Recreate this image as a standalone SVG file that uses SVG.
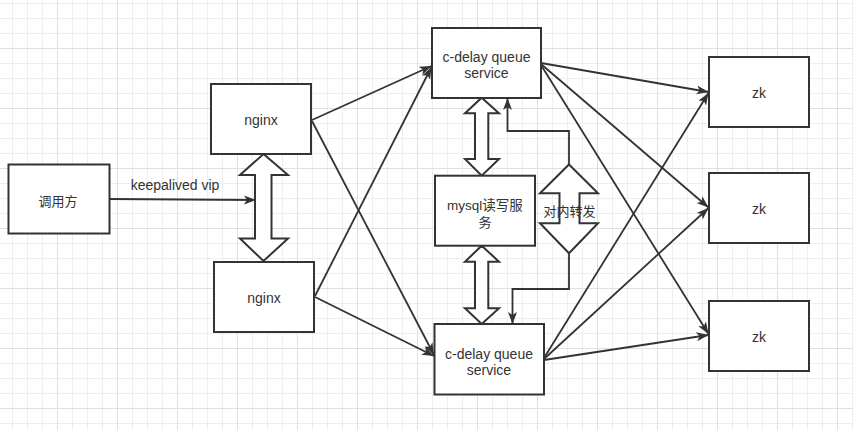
<svg xmlns="http://www.w3.org/2000/svg" width="853" height="430" viewBox="0 0 853 430">
<defs>
<pattern id="grid" x="57" y="48" width="60" height="60" patternUnits="userSpaceOnUse">
<path d="M15.5,0V60M30.5,0V60M45.5,0V60M0,15.5H60M0,30.5H60M0,45.5H60" stroke="#eeeeee" stroke-width="1" fill="none"/>
<path d="M0.5,0V60M0,0.5H60" stroke="#e0e0e0" stroke-width="1" fill="none"/>
</pattern>
<marker id="arr" markerUnits="userSpaceOnUse" markerWidth="14" markerHeight="10" refX="12" refY="4.5" orient="auto">
<path d="M0,0 L12,4.5 L0,9 L3,4.5 Z" fill="#333333"/>
</marker>
</defs>
<style>
.box{fill:#ffffff;stroke:#333333;stroke-width:2}
.dbl{fill:#ffffff;stroke:#333333;stroke-width:2;stroke-linejoin:miter}
.ln{fill:none;stroke:#333333;stroke-width:1.8;marker-end:url(#arr)}
.t{font-family:"Liberation Sans","Noto Sans CJK SC",sans-serif;font-size:14px;fill:#333333;text-anchor:middle;dominant-baseline:central}
.c{font-family:"Noto Sans CJK SC",sans-serif;font-size:13px;fill:#333333;text-anchor:middle;dominant-baseline:central}
</style>
<rect width="853" height="430" fill="#ffffff"/>
<rect width="853" height="430" fill="url(#grid)"/>

<g id="connectors">
<line class="ln" x1="109" y1="199" x2="256" y2="200"/>
<line class="ln" x1="312" y1="120" x2="431.5" y2="66"/>
<line class="ln" x1="312" y1="121" x2="434" y2="355"/>
<line class="ln" x1="315" y1="296" x2="431.5" y2="67"/>
<line class="ln" x1="315" y1="297" x2="434" y2="356"/>
<line class="ln" x1="541" y1="63" x2="708.5" y2="92"/>
<line class="ln" x1="541" y1="64" x2="708.5" y2="207.5"/>
<line class="ln" x1="541" y1="65" x2="708.5" y2="334"/>
<line class="ln" x1="544" y1="358" x2="708.5" y2="93"/>
<line class="ln" x1="544" y1="359" x2="708.5" y2="208"/>
<line class="ln" x1="544" y1="360" x2="708.5" y2="335"/>
<polyline class="ln" points="569,164.5 569,131 507.5,131 507.5,98"/>
<polyline class="ln" points="569,253.5 569,289 512.5,289 512.5,324"/>
<text class="t" x="175" y="185">keepalived vip</text>
</g>

<g id="dbl-nginx">
<polygon class="dbl" points="263.5,154 288,175 271.5,175 271.5,238.5 288,238.5 263.5,261 240,238.5 255,238.5 255,175 240,175"/>
</g>
<g id="dbl-top">
<polygon class="dbl" points="481.7,97.7 499,113.3 488.3,113.3 488.3,159 499,159 481.7,175.7 465,159 475,159 475,113.3 465,113.3"/>
</g>
<g id="dbl-bottom">
<polygon class="dbl" points="481.7,245.7 499,261.7 488.3,261.7 488.3,308.3 499,308.3 481.7,324 465,308.3 475,308.3 475,261.7 465,261.7"/>
</g>
<g id="forward">
<polygon class="dbl" points="569,164.5 598,193.3 579.5,193.3 579.5,223.3 598,223.3 569,253.3 540,223.3 559.5,223.3 559.5,193.3 540,193.3"/>
<text class="c" x="569.5" y="210">对内转发</text>
</g>

<g id="caller">
<rect class="box" x="8.5" y="164.5" width="101" height="69"/>
<text class="c" x="58" y="200">调用方</text>
</g>
<g id="nginx1">
<rect class="box" x="211" y="84" width="100" height="70"/>
<text class="t" x="261" y="120">nginx</text>
</g>
<g id="nginx2">
<rect class="box" x="214" y="262" width="100" height="70"/>
<text class="t" x="264" y="298">nginx</text>
</g>
<g id="cdelay1">
<rect class="box" x="432" y="28" width="109" height="70"/>
<text class="t" x="486.5" y="56.5">c-delay queue</text>
<text class="t" x="486.5" y="72.5">service</text>
</g>
<g id="mysql">
<rect class="box" x="435" y="175.7" width="100" height="70"/>
<text class="t" x="485" y="205" style="font-size:13.5px">mysql读写服</text>
<text class="c" x="485" y="221">务</text>
</g>
<g id="cdelay2">
<rect class="box" x="434.5" y="324" width="109.5" height="70.5"/>
<text class="t" x="489" y="354">c-delay queue</text>
<text class="t" x="489" y="370">service</text>
</g>
<g id="zk1">
<rect class="box" x="709" y="57" width="100" height="70"/>
<text class="t" x="759" y="93">zk</text>
</g>
<g id="zk2">
<rect class="box" x="709" y="173" width="100" height="70"/>
<text class="t" x="759" y="209">zk</text>
</g>
<g id="zk3">
<rect class="box" x="709" y="301" width="100" height="70"/>
<text class="t" x="759" y="337">zk</text>
</g>
</svg>
